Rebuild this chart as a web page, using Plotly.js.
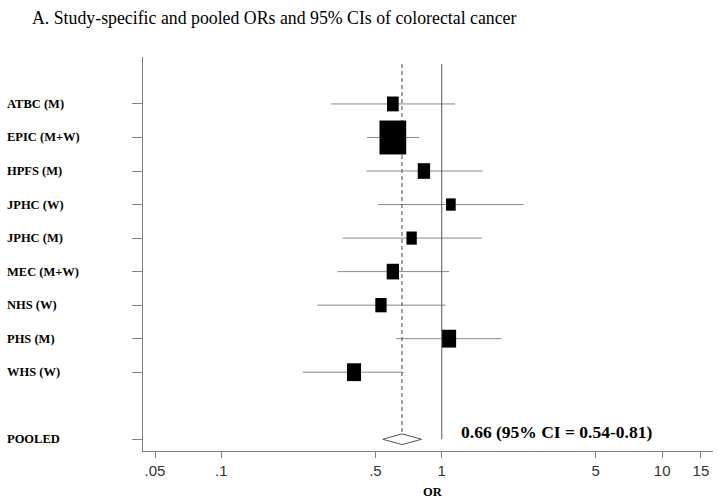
<!DOCTYPE html>
<html><head><meta charset="utf-8">
<script src="https://cdn.plot.ly/plotly-3.0.1.min.js"></script>
<style>html,body{margin:0;padding:0;background:#fff}#chart{width:719px;height:504px}</style>
</head><body><div id="chart"></div>
<script>
// ---- data ----
const studies = ['ATBC (M)','EPIC (M+W)','HPFS (M)','JPHC (W)','JPHC (M)','MEC (M+W)','NHS (W)','PHS (M)','WHS (W)'];
const orEst   = [0.60, 0.60, 0.83, 1.10, 0.73, 0.60, 0.53, 1.08, 0.40];
const ciLow   = [0.315, 0.458, 0.455, 0.514, 0.355, 0.337, 0.272, 0.621, 0.234];
const ciHigh  = [1.15, 0.79, 1.53, 2.35, 1.52, 1.08, 1.04, 1.87, 0.67];
const weights = [7.3, 38.1, 8.1, 5.0, 5.7, 8.1, 6.8, 10.5, 10.5];
const pooledLabel = 'POOLED';
const pooledOR = 0.66, pooledLow = 0.54, pooledHigh = 0.81;
const pooledText = '0.66 (95% CI = 0.54-0.81)';
const xTickVals = [0.05, 0.1, 0.5, 1, 5, 10, 15];
const xTickText = ['.05', '.1', '.5', '1', '5', '10', '15'];
const title = 'A. Study-specific and pooled ORs and 95% CIs of colorectal cancer';
const xTitle = 'OR';

// ---- layout constants ----
const W = 719, H = 504;
const M = {l: 143, r: 6, t: 57, b: 53};
const plotW = W - M.l - M.r;
const xRangeLog = [-1.3555, 1.2308];
const yRows = studies.map((_, i) => i + 1);
const yPooled = studies.length + 2;
const yTop = -0.40, yBottom = 11.35;
const refTop = -0.19;
const diamondHalf = 0.16;
const serif = 'Liberation Serif, Times New Roman, serif';
const sans = 'Liberation Sans, Arial, sans-serif';

const ciX = [], ciY = [];
studies.forEach((s, i) => { ciX.push(ciLow[i], ciHigh[i], null); ciY.push(yRows[i], yRows[i], null); });

const traces = [
  {x: ciX, y: ciY, mode: 'lines', line: {color: '#8a8a8a', width: 1}, hoverinfo: 'skip', showlegend: false},
  {x: [1, 1], y: [refTop, yPooled], mode: 'lines', line: {color: '#555', width: 1}, hoverinfo: 'skip', showlegend: false},
  {x: [pooledOR, pooledOR], y: [refTop, yPooled - diamondHalf], mode: 'lines', line: {color: '#444', width: 1, dash: '4px,3px'}, hoverinfo: 'skip', showlegend: false},
  {x: [pooledLow, pooledOR, pooledHigh, pooledOR, pooledLow],
   y: [yPooled, yPooled - diamondHalf, yPooled, yPooled + diamondHalf, yPooled],
   mode: 'lines', fill: 'toself', fillcolor: '#fff', line: {color: '#555', width: 1}, hoverinfo: 'skip', showlegend: false},
  // study point estimates on a log-valued overlay axis (anchors for the weighted boxes)
  {x: orEst.map(v => Math.log10(v)), y: yRows, xaxis: 'x2', yaxis: 'y', mode: 'markers',
   marker: {size: 1, opacity: 0}, hoverinfo: 'skip', showlegend: false}
];

const boxK = 4.33, boxAspect = 1.27;
const shapes = studies.map((s, i) => {
  const w = Math.sqrt(weights[i]) * boxK, h = w * boxAspect;
  return {type: 'rect', xref: 'x2', yref: 'y', xsizemode: 'pixel', ysizemode: 'pixel',
    xanchor: Math.log10(orEst[i]), yanchor: yRows[i], x0: -w / 2, x1: w / 2, y0: -h / 2, y1: h / 2,
    fillcolor: '#000', line: {width: 0}, layer: 'above'};
});

const annotations = studies.map((s, i) => ({
  text: '<b>' + s + '</b>', xref: 'paper', yref: 'y', x: (5 - M.l) / plotW, y: yRows[i],
  xanchor: 'left', yanchor: 'middle', showarrow: false, font: {family: serif, size: 12.5, color: '#000'}
}));
annotations.push({text: '<b>' + pooledLabel + '</b>', xref: 'paper', yref: 'y', x: (5 - M.l) / plotW, y: yPooled,
  xanchor: 'left', yanchor: 'middle', showarrow: false, font: {family: serif, size: 12.5, color: '#000'}});
annotations.push({text: '<b>' + pooledText + '</b>', xref: 'paper', yref: 'y', x: (459 - M.l) / plotW, y: yPooled - 0.23,
  xanchor: 'left', yanchor: 'middle', showarrow: false, font: {family: serif, size: 17.5, color: '#000'}});
annotations.push({text: '<b>' + xTitle + '</b>', xref: 'paper', yref: 'paper', x: (433 - M.l) / plotW, y: -(492 - (H - M.b)) / (H - M.t - M.b),
  xanchor: 'center', yanchor: 'middle', showarrow: false, font: {family: serif, size: 12.5, color: '#000'}});

const layout = {
  width: W, height: H, margin: M, paper_bgcolor: '#fff', plot_bgcolor: '#fff',
  title: {text: title, x: 32 / W, xanchor: 'left', xref: 'container', y: 1 - 18 / H, yref: 'container', yanchor: 'middle',
    font: {family: serif, size: 17.8, color: '#000'}},
  xaxis: {type: 'log', range: xRangeLog, tickvals: xTickVals, ticktext: xTickText,
    ticks: 'outside', ticklen: 6, tickcolor: '#808080', showline: true, linecolor: '#808080', linewidth: 1,
    showgrid: false, zeroline: false, tickfont: {family: sans, size: 15, color: '#333'}, fixedrange: true},
  xaxis2: {type: 'linear', range: xRangeLog, overlaying: 'x', visible: false, showgrid: false, zeroline: false, fixedrange: true},
  yaxis: {range: [yBottom, yTop], tickvals: yRows.concat([yPooled]), showticklabels: false,
    ticks: 'outside', ticklen: 10, tickcolor: '#808080', showline: true, linecolor: '#808080', linewidth: 1,
    showgrid: false, zeroline: false, fixedrange: true},
  shapes: shapes, annotations: annotations, showlegend: false
};

Plotly.newPlot('chart', traces, layout, {displayModeBar: false, staticPlot: true});
</script></body></html>
